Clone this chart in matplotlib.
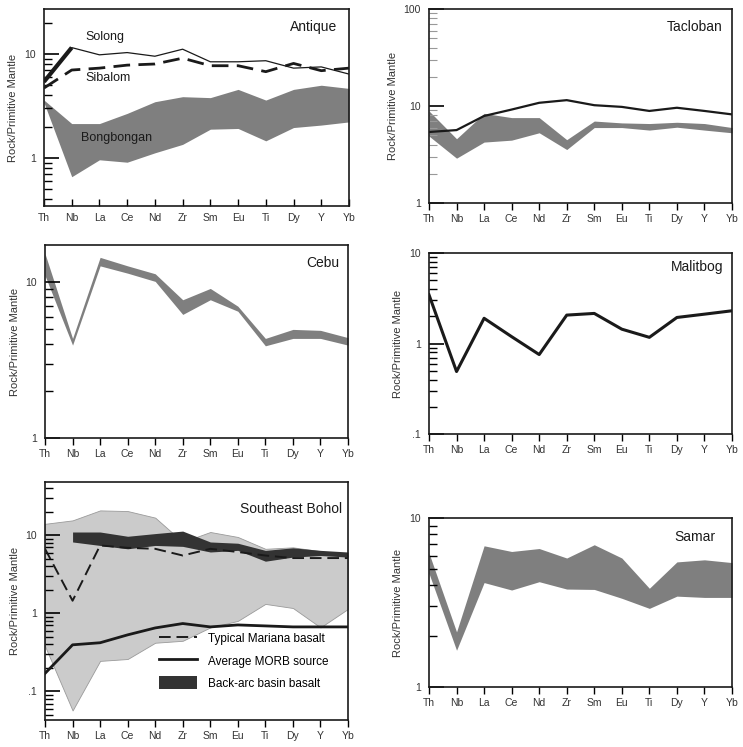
"""
Primitive-mantle normalised multi-element diagrams for six
ophiolite / basalt suites (Antique, Tacloban, Cebu, Malitbog,
Southeast Bohol, Samar).
"""

from matplotlib import pyplot as plt
from matplotlib.ticker import LogLocator, FuncFormatter, NullFormatter
import numpy as np

plt.rcParams['font.family'] = ['Liberation Sans', 'DejaVu Sans']

ELEMENTS = ["Th", "Nb", "La", "Ce", "Nd", "Zr", "Sm", "Eu", "Ti", "Dy", "Y", "Yb"]

# Antique
solong = [5.4, 11.5, 9.8, 10.3, 9.5, 11.1, 8.4, 8.4, 8.6, 7.3, 7.5, 6.4]
sibalom = [4.7, 7.0, 7.3, 7.8, 8.0, 9.1, 7.7, 7.7, 6.75, 8.1, 6.9, 7.3]
bongbongan_hi = [3.6, 2.14, 2.14, 2.68, 3.47, 3.88, 3.8, 4.56, 3.6, 4.56, 5.0, 4.66]
bongbongan_lo = [3.4, 0.66, 0.96, 0.91, 1.12, 1.35, 1.89, 1.92, 1.46, 1.96, 2.07, 2.22]

# Tacloban
tacloban_line = [5.4, 5.65, 7.9, 9.2, 10.8, 11.5, 10.2, 9.8, 8.9, 9.6, 8.9, 8.2]
tacloban_hi = [8.9, 4.6, 8.4, 7.6, 7.6, 4.5, 7.0, 6.7, 6.6, 6.8, 6.6, 6.0]
tacloban_lo = [4.9, 2.9, 4.25, 4.45, 5.3, 3.56, 6.0, 6.0, 5.65, 6.05, 5.65, 5.3]

# Cebu
cebu_hi = [15.2, 4.35, 14.4, 12.7, 11.3, 7.7, 9.1, 7.0, 4.35, 4.97, 4.9, 4.4]
cebu_lo = [11.0, 3.94, 12.7, 11.4, 10.1, 6.2, 7.7, 6.5, 3.9, 4.35, 4.35, 3.94]

# Malitbog
malitbog = [3.45, 0.49, 1.9, 1.19, 0.755, 2.06, 2.15, 1.44, 1.17, 1.94, 2.11, 2.3]

# Southeast Bohol
bohol_hi = [14.0, 15.5, 20.8, 20.4, 16.8, 8.2, 11.0, 9.5, 6.7, 7.0, 6.25, 5.5]
bohol_lo = [0.38, 0.057, 0.246, 0.26, 0.42, 0.445, 0.66, 0.8, 1.32, 1.17, 0.66, 1.14]
bab_hi = [np.nan, 11.0, 11.0, 9.7, 10.5, 11.3, 8.2, 7.9, 6.4, 6.9, 6.4, 6.1]
bab_lo = [np.nan, 8.2, 7.4, 6.7, 7.4, 7.2, 6.1, 6.4, 4.65, 5.25, 5.5, 5.25]
mariana = [6.7, 1.45, 7.4, 6.9, 6.7, 5.5, 6.7, 6.1, 5.5, 5.1, 5.1, 5.1]
morb = [0.17, 0.395, 0.42, 0.53, 0.65, 0.74, 0.67, 0.71, 0.69, 0.67, 0.67, 0.67]

# Samar
samar_hi = [6.2, 2.12, 6.85, 6.34, 6.6, 5.8, 6.95, 5.8, 3.84, 5.5, 5.66, 5.45]
samar_lo = [4.7, 1.65, 4.15, 3.75, 4.2, 3.8, 3.78, 3.35, 2.92, 3.45, 3.39, 3.39]

x = np.arange(len(ELEMENTS))
BAND = "#7f7f7f"
INK = "#1a1a1a"


def log_label(v, pos):
    if v >= 1:
        return "%d" % round(v)
    return ("%g" % v).lstrip("0")


def setup(ax, ylim, title, title_xy, xdir="out"):
    ax.set_yscale("log")
    ax.set_xlim(0, len(ELEMENTS) - 1)
    ax.set_ylim(*ylim)
    ax.set_xticks(x)
    ax.set_xticklabels(ELEMENTS, fontsize=7.5, color="#333333")
    ax.yaxis.set_major_locator(LogLocator(base=10))
    ax.yaxis.set_minor_locator(LogLocator(base=10, subs=np.arange(2, 10)))
    ax.yaxis.set_major_formatter(FuncFormatter(log_label))
    ax.yaxis.set_minor_formatter(NullFormatter())
    ax.tick_params(axis="y", which="major", direction="in", length=11,
                   width=1.2, labelsize=7.5, pad=6, labelcolor="#333333")
    ax.tick_params(axis="y", which="minor", direction="in", length=6,
                   width=1.0)
    ax.tick_params(axis="x", direction=xdir, length=5, width=1.0,
                   pad=3 if xdir == "out" else 5)
    ax.tick_params(top=False, right=False)
    for s in ax.spines.values():
        s.set_linewidth(1.2)
        s.set_color(INK)
    ax.set_ylabel("Rock/Primitive Mantle", fontsize=8, color="#333333",
                  labelpad=4)
    ax.text(title_xy[0], title_xy[1], title, transform=ax.transAxes,
            ha="right", va="center", fontsize=10, color=INK)


fig = plt.figure(figsize=(7.43, 7.47), dpi=100)

# positions in figure fractions
ax1 = fig.add_axes([0.0592, 0.7242, 0.4105, 0.2637])
ax2 = fig.add_axes([0.5774, 0.7282, 0.4078, 0.2597])
ax3 = fig.add_axes([0.0606, 0.4137, 0.4078, 0.2584])
ax4 = fig.add_axes([0.5774, 0.4190, 0.4078, 0.2423])
ax5 = fig.add_axes([0.0606, 0.0361, 0.4078, 0.3186])
ax6 = fig.add_axes([0.5774, 0.0803, 0.4078, 0.2262])

# Antique
ax1.fill_between(x, bongbongan_lo, bongbongan_hi, color=BAND, lw=0)
ax1.plot(x, solong, color=INK, lw=0.9)
ax1.plot(x[:2], solong[:2], color=INK, lw=3.0, solid_capstyle="butt")
ax1.plot(x, sibalom, color=INK, lw=2.0, dashes=(6, 3))
ax1.text(2.2, 13.6, "Solong", fontsize=9, ha="center", color=INK)
ax1.text(2.3, 5.5, "Sibalom", fontsize=9, ha="center", color=INK)
ax1.text(2.6, 1.45, "Bongbongan", fontsize=9, ha="center", color=INK)
setup(ax1, (0.345, 27), "Antique", (0.96, 0.91), xdir="in")

# Tacloban
ax2.fill_between(x, tacloban_lo, tacloban_hi, color=BAND, lw=0)
ax2.plot(x, tacloban_line, color=INK, lw=1.6)
setup(ax2, (1, 100), "Tacloban", (0.967, 0.907))
ax2.tick_params(axis="y", which="minor", color="#999999", width=0.8)

# Cebu
ax3.fill_between(x, cebu_lo, cebu_hi, color=BAND, lw=0)
setup(ax3, (1, 17.3), "Cebu", (0.97, 0.907))

# Malitbog
ax4.plot(x, malitbog, color=INK, lw=2.2)
setup(ax4, (0.1, 10), "Malitbog", (0.97, 0.92))

# Southeast Bohol
ax5.fill_between(x, bohol_lo, bohol_hi, facecolor="#cbcbcb",
                 edgecolor="#9a9a9a", lw=0.6)
ax5.fill_between(x, bab_lo, bab_hi, color="#333333", lw=0,
                 label="Back-arc basin basalt")
ax5.plot(x, mariana, color=INK, lw=1.4, dashes=(6, 3),
         label="Typical Mariana basalt")
ax5.plot(x, morb, color=INK, lw=2.0, label="Average MORB source")
setup(ax5, (0.043, 48), "Southeast Bohol", (0.98, 0.887))
h, l = ax5.get_legend_handles_labels()
order = [l.index("Typical Mariana basalt"), l.index("Average MORB source"),
         l.index("Back-arc basin basalt")]
ax5.legend([h[i] for i in order], [l[i] for i in order], loc="upper left",
           bbox_to_anchor=(0.36, 0.39), frameon=False, fontsize=8.5,
           handlelength=3.2, handleheight=1.3, labelspacing=0.75,
           handletextpad=1.0, borderaxespad=0)

# Samar
ax6.fill_between(x, samar_lo, samar_hi, color=BAND, lw=0)
setup(ax6, (1, 10), "Samar", (0.944, 0.89))

fig.savefig("out.png", dpi=100)
